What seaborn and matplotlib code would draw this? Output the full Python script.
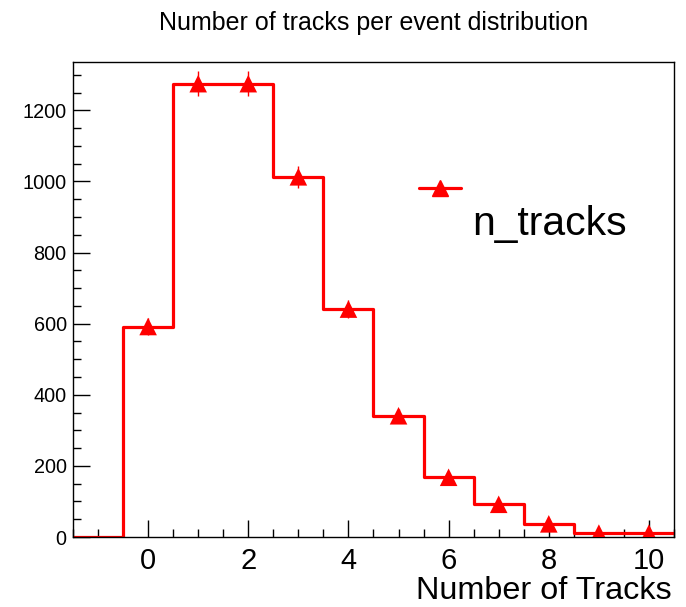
import numpy as np
import pandas as pd
import matplotlib
matplotlib.use("Agg")
import matplotlib.pyplot as plt
from matplotlib.ticker import MultipleLocator
from matplotlib.lines import Line2D
import seaborn as sns

# ---- data ----
n_tracks = [-1, 0, 1, 2, 3, 4, 5, 6, 7, 8, 9, 10]
counts = [0, 592, 1275, 1275, 1013, 641, 341, 168, 92, 37, 11, 11]
title = "Number of tracks per event distribution"
x_label = "Number of Tracks"
legend_label = "n_tracks"
x_ticks = [0, 2, 4, 6, 8, 10]
y_ticks = [0, 200, 400, 600, 800, 1000, 1200]

sns.set_style("white")
plt.rcParams['font.family'] = ['Liberation Sans', 'DejaVu Sans']
plt.rcParams['text.color'] = 'black'
plt.rcParams['xtick.color'] = 'black'
plt.rcParams['ytick.color'] = 'black'
plt.rcParams['axes.labelcolor'] = 'black'

df = pd.DataFrame({"n": n_tracks, "count": counts})
df["err"] = np.sqrt(df["count"])
pts = df[df["count"] > 0]

RED = "#ff0000"
fig = plt.figure(figsize=(6.86, 6.07), dpi=100)
ax = fig.add_axes([0.1064, 0.1153, 0.8761, 0.7826])

sns.histplot(data=df, x="n", weights="count", discrete=True, element="step",
             fill=False, color=RED, linewidth=2.3, ax=ax)
ax.errorbar(pts["n"], pts["count"], yerr=pts["err"], fmt="none",
            ecolor=RED, elinewidth=1.0, zorder=3)
sns.scatterplot(data=pts, x="n", y="count", marker="^", s=160, color=RED,
                edgecolor="none", ax=ax, zorder=4)

ax.set_xlim(-1.5, 10.5)
ax.set_ylim(0, 1336)
ax.set_xticks(x_ticks)
ax.set_yticks(y_ticks)
ax.xaxis.set_minor_locator(MultipleLocator(0.5))
ax.yaxis.set_minor_locator(MultipleLocator(50))
ax.tick_params(axis="both", which="both", direction="in", color="black",
               bottom=True, left=True, top=False, right=False, width=1.0)
ax.tick_params(axis="x", which="major", length=12, labelsize=21, pad=7)
ax.tick_params(axis="x", which="minor", length=6)
ax.tick_params(axis="y", which="major", length=12, labelsize=14.3, pad=4.5)
ax.tick_params(axis="y", which="minor", length=6)
for s in ax.spines.values():
    s.set_color("black")
    s.set_linewidth(1.0)

ax.set_ylabel("")
ax.set_xlabel(x_label, fontsize=23.3, loc="right")
ax.xaxis.set_label_coords(0.9967, -0.082)
ax.set_title(title, fontsize=18, y=1.0674, pad=0)

h = Line2D([], [], color=RED, marker="^", markersize=12, linewidth=2.3)
ax.legend(handles=[h], labels=[""], loc="center", bbox_to_anchor=(0.6106, 0.7326),
          frameon=False, handlelength=3.0, handletextpad=0, borderpad=0,
          borderaxespad=0)
ax.text(0.664, 0.636, legend_label, transform=ax.transAxes, fontsize=29.4,
        ha="left", va="baseline")

fig.savefig("out.png", dpi=100)
